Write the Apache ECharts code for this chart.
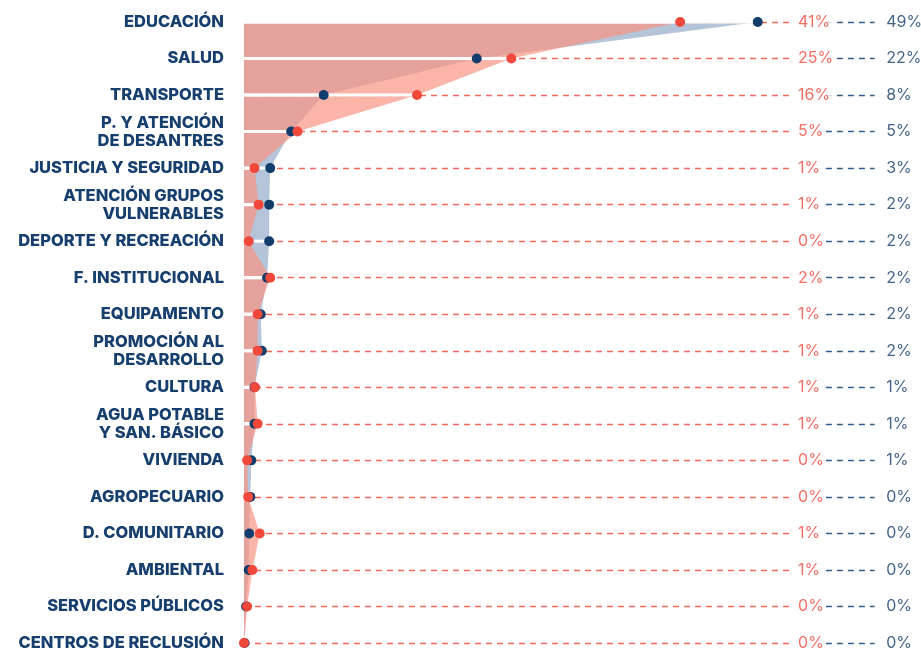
<!DOCTYPE html>
<html><head><meta charset="utf-8">
<script src="https://cdn.jsdelivr.net/npm/echarts@6/dist/echarts.min.js"></script>
<style>html,body{margin:0;padding:0;background:#fff}#c{width:921px;height:652px}</style>
</head><body><div id="c"></div>
<script>
const categories = ['EDUCACIÓN','SALUD','TRANSPORTE','P. Y ATENCIÓN\nDE DESANTRES','JUSTICIA Y SEGURIDAD','ATENCIÓN GRUPOS\nVULNERABLES','DEPORTE Y RECREACIÓN','F. INSTITUCIONAL','EQUIPAMENTO','PROMOCIÓN AL\nDESARROLLO','CULTURA','AGUA POTABLE\nY SAN. BÁSICO','VIVIENDA','AGROPECUARIO','D. COMUNITARIO','AMBIENTAL','SERVICIOS PÚBLICOS','CENTROS DE RECLUSIÓN'];
const redValues  = [41.6,25.5,16.5,5.1,1.0,1.4,0.45,2.5,1.3,1.3,1.05,1.3,0.3,0.4,1.5,0.8,0.3,0];
const navyValues = [49.0,22.2,7.6,4.5,2.5,2.4,2.4,2.2,1.6,1.7,1.0,1.0,0.7,0.6,0.5,0.45,0.2,0.05];
const redLabels  = ['41%','25%','16%','5%','1%','1%','0%','2%','1%','1%','1%','1%','0%','0%','1%','1%','0%','0%'];
const navyLabels = ['49%','22%','8%','5%','3%','2%','2%','2%','2%','2%','1%','1%','1%','0%','0%','0%','0%','0%'];

const RED = '#f0483a', NAVY = '#123c6b';
const X_MAX = 64;
const RED_DASH_END = 52.0, RED_LABEL_X = 52.8, NAVY_DASH_START = 55.5, NAVY_DASH_END = 60.15, NAVY_LABEL_X = 61.2;

const chart = echarts.init(document.getElementById('c'));
const redDash = categories.map(c => [{coord:[0,c]},{coord:[RED_DASH_END,c]}]);
const navyDash = categories.map(c => [{coord:[NAVY_DASH_START,c]},{coord:[NAVY_DASH_END,c]}]);

chart.setOption({
  animation:false,
  backgroundColor:'#fff',
  grid:{left:244, width:671, top:22, bottom:6},
  xAxis:{type:'value', min:0, max:X_MAX, show:false},
  yAxis:{type:'category', data:categories, inverse:true, boundaryGap:false,
    axisLine:{show:false}, axisTick:{show:false}, splitLine:{show:false},
    axisLabel:{margin:20, color:'#163f6e', fontFamily:'Inter', fontWeight:800, fontSize:16.5, lineHeight:18, align:'right'}},
  series:[
    {type:'line', data:navyValues, showSymbol:false, symbol:'none', lineStyle:{width:0}, areaStyle:{color:'#b5c4d8', opacity:1}, z:1, silent:true},
    {type:'line', data:redValues, showSymbol:false, symbol:'none', lineStyle:{width:0}, areaStyle:{color:'#f99483', opacity:0.7}, z:1, silent:true},
    {type:'scatter', data:[], z:2, silent:true,
      markLine:{z:2, silent:true, symbol:'none', label:{show:false}, lineStyle:{color:'#f26a58', type:[6,5], width:1.3}, data:redDash}},
    {type:'scatter', data:[], z:2, silent:true,
      markLine:{z:2, silent:true, symbol:'none', label:{show:false}, lineStyle:{color:'#2f5c8c', type:[6,5], width:1.3}, data:navyDash}},
    {type:'bar', data:redValues, barWidth:3, barGap:'-100%', itemStyle:{color:'#fff'}, z:3, silent:true},
    {type:'bar', data:navyValues, barWidth:3, barGap:'-100%', itemStyle:{color:'#fff'}, z:3, silent:true},
    {type:'scatter', data:navyValues.map((v,i)=>[v,categories[i]]), symbolSize:10, itemStyle:{color:NAVY, opacity:1}, z:4, silent:true},
    {type:'scatter', data:redValues.map((v,i)=>[v,categories[i]]), symbolSize:10, itemStyle:{color:RED, opacity:1}, z:5, silent:true},
    {type:'scatter', data:categories.map(c=>[RED_LABEL_X,c]), symbolSize:1, itemStyle:{color:'rgba(0,0,0,0)'}, z:6, silent:true,
      label:{show:true, position:'right', distance:0, color:RED, fontFamily:'Inter', fontSize:16, backgroundColor:'#fff', padding:[0,2,0,0],
        formatter:p=>redLabels[p.dataIndex]}},
    {type:'scatter', data:categories.map(c=>[NAVY_LABEL_X,c]), symbolSize:1, itemStyle:{color:'rgba(0,0,0,0)'}, z:6, silent:true,
      label:{show:true, position:'right', distance:0, color:NAVY, fontFamily:'Inter', fontSize:16,
        formatter:p=>navyLabels[p.dataIndex]}}
  ]
});
</script></body></html>
